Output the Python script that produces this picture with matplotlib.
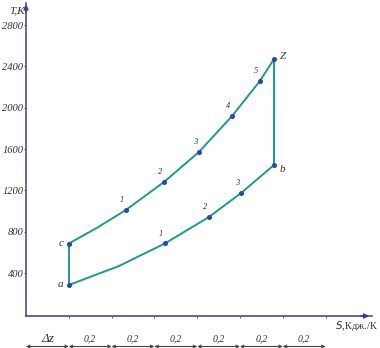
import matplotlib
matplotlib.use("Agg")
import matplotlib.pyplot as plt
import matplotlib.transforms as mtransforms

# ---- data ----
# compression line a -> c (vertical)
S_ac = [0.2, 0.2]
T_ac = [284, 685]
# upper line c -> 1..5 -> Z
S_up = [0.2, 0.332, 0.467, 0.645, 0.808, 0.963, 1.093, 1.159]
T_up = [685, 838, 1010, 1281, 1571, 1919, 2258, 2471]
S_up_pts = [0.467, 0.645, 0.808, 0.963, 1.093]
T_up_pts = [1010, 1281, 1571, 1919, 2258]
up_labels = ["1", "2", "3", "4", "5"]
# line Z -> b (vertical)
S_zb = [1.159, 1.159]
T_zb = [2471, 1445]
# lower line a -> 1..3 -> b
S_lo = [0.2, 0.435, 0.650, 0.855, 1.005, 1.159]
T_lo = [284, 468, 687, 942, 1174, 1445]
S_lo_pts = [0.650, 0.855, 1.005]
T_lo_pts = [687, 942, 1174]
lo_labels = ["1", "2", "3"]
# corner points
corner_S = [0.2, 0.2, 1.159, 1.159]
corner_T = [284, 685, 2471, 1445]
corner_labels = ["a", "c", "Z", "b"]
# axes ticks
y_ticks = [400, 800, 1200, 1600, 2000, 2400, 2800]
x_ticks = [0.2, 0.4, 0.6, 0.8, 1.0, 1.2, 1.4]
seg_edges = [0.0, 0.2, 0.4, 0.6, 0.8, 1.0, 1.2, 1.4]
seg_labels = ["Δz", "0,2", "0,2", "0,2", "0,2", "0,2", "0,2"]

axis_c = "#3a3a98"
line_c = "#1c9a8e"
pt_c = "#2848a8"
txt_c = "#333333"
serif = ["Liberation Serif", "DejaVu Serif"]

fig = plt.figure(figsize=(3.8, 3.48), dpi=100)
ax = fig.add_axes([26/380, (348-316)/348, 346/380, 313/348])
ax.set_xlim(0, 1.617)
ax.set_ylim(-16, 3013)

for sp in ["top", "right"]:
    ax.spines[sp].set_visible(False)
for sp in ["left", "bottom"]:
    ax.spines[sp].set_color(axis_c)
    ax.spines[sp].set_linewidth(1.1)

ax.set_yticks(y_ticks)
ax.set_yticklabels([str(v) for v in y_ticks], family=serif, style="italic",
                   fontsize=7.6, color=txt_c)
ax.set_xticks(x_ticks)
ax.set_xticklabels([])
ax.tick_params(axis="both", colors=axis_c, length=1.5, width=0.6, pad=0.5)
ax.tick_params(axis="y", labelcolor=txt_c)

# arrow heads on axes
ax.annotate("", xy=(0, 1.005), xytext=(0, 0.96), xycoords="axes fraction",
            arrowprops=dict(arrowstyle="-|>", color=axis_c, lw=1.1,
                            mutation_scale=7), annotation_clip=False)
ax.annotate("", xy=(1.0, 0), xytext=(0.96, 0), xycoords="axes fraction",
            arrowprops=dict(arrowstyle="-|>", color=axis_c, lw=1.1,
                            mutation_scale=7), annotation_clip=False)

# cycle lines
for S, T in [(S_ac, T_ac), (S_up, T_up), (S_zb, T_zb), (S_lo, T_lo)]:
    ax.plot(S, T, color=line_c, lw=1.4, solid_capstyle="round",
            solid_joinstyle="round", zorder=2)

ax.plot(S_up_pts + S_lo_pts + corner_S, T_up_pts + T_lo_pts + corner_T,
        "o", ms=2.6, color=pt_c, zorder=3, clip_on=False)

small = dict(family=serif, style="italic", fontsize=6, color=txt_c)
for s, t, lab in zip(S_up_pts, T_up_pts, up_labels):
    ax.annotate(lab, (s, t), xytext=(-1.5, 4), textcoords="offset points",
                ha="right", va="bottom", **small)
for s, t, lab in zip(S_lo_pts, T_lo_pts, lo_labels):
    ax.annotate(lab, (s, t), xytext=(-1.5, 4), textcoords="offset points",
                ha="right", va="bottom", **small)

big = dict(family=serif, style="italic", fontsize=8, color=txt_c)
offs = {"a": (-4, 0, "right"), "c": (-4, 0, "right"),
        "Z": (4, 2, "left"), "b": (4, -3, "left")}
for s, t, lab in zip(corner_S, corner_T, corner_labels):
    dx, dy, ha = offs[lab]
    ax.annotate(lab, (s, t), xytext=(dx, dy), textcoords="offset points",
                ha=ha, va="center", **big)

# axis titles
fig.text(17/380, 1 - 11/348, "T,K", ha="center", va="center", **big)
fig.text(0.995, 1 - 326/348, "$\\mathit{S}$,Кдж./К", ha="right", va="center",
         family=serif, fontsize=7.5, color=txt_c)

# dimension row below the axis
tr = mtransforms.blended_transform_factory(ax.transData, fig.transFigure)
y_arrow = (348 - 346.5) / 348
y_lab = (348 - 339) / 348
for i in range(len(seg_edges) - 1):
    x0, x1 = seg_edges[i], seg_edges[i + 1]
    ax.annotate("", xy=(x1, y_arrow), xytext=(x0, y_arrow), xycoords=tr,
                arrowprops=dict(arrowstyle="<->", color="#444444", lw=0.8,
                                mutation_scale=5, shrinkA=0, shrinkB=0),
                annotation_clip=False)
    lab = seg_labels[i]
    fs = 9.5 if lab == "Δz" else 7
    ax.text((x0 + x1) / 2, y_lab, lab, transform=tr, ha="center", va="center",
            family=serif, style="italic", fontsize=fs, color=txt_c)

fig.savefig("out.png", dpi=100)
